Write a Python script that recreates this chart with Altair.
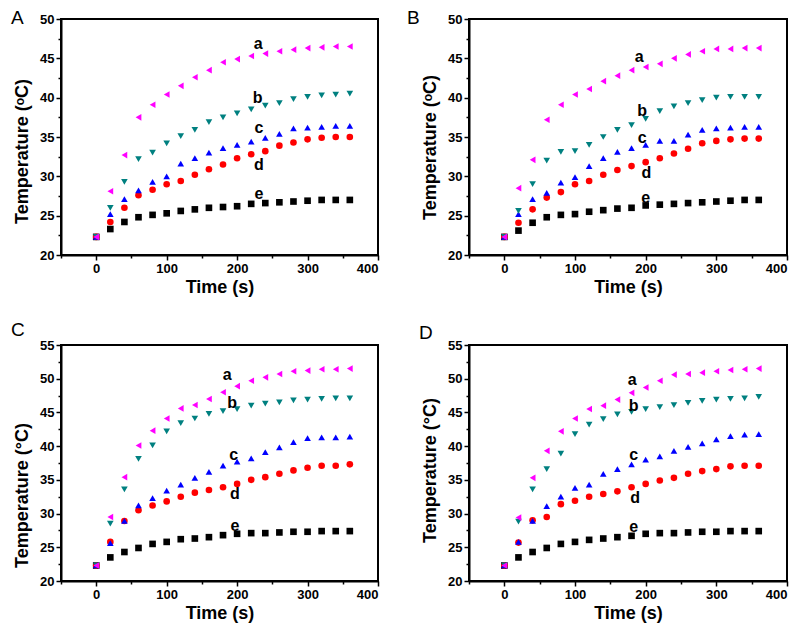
import altair as alt
import pandas as pd

time_s = [0, 20, 40, 60, 80, 100, 120, 140, 160, 180, 200, 220, 240, 260, 280, 300, 320, 340, 360]

A_a = [22.3, 28.1, 32.7, 37.5, 39.1, 40.4, 41.5, 42.6, 43.5, 44.5, 44.9, 45.3, 45.6, 45.9, 46.1, 46.3, 46.4, 46.5, 46.5]
A_b = [22.3, 26.0, 29.3, 32.2, 33.0, 34.2, 35.1, 35.9, 36.9, 37.5, 38.0, 38.5, 39.0, 39.3, 39.8, 40.1, 40.3, 40.4, 40.5]
A_c = [22.3, 25.2, 27.1, 28.2, 29.3, 30.0, 31.6, 32.3, 33.0, 33.6, 34.0, 34.4, 34.9, 35.4, 36.1, 36.2, 36.3, 36.4, 36.4]
A_d = [22.3, 24.2, 26.0, 27.6, 28.3, 29.0, 29.4, 30.2, 30.9, 31.5, 32.3, 32.8, 33.2, 33.9, 34.3, 34.7, 34.9, 35.0, 35.0]
A_e = [22.3, 23.3, 24.2, 24.8, 25.1, 25.3, 25.6, 25.8, 26.0, 26.1, 26.2, 26.5, 26.6, 26.7, 26.8, 26.9, 27.0, 27.0, 27.0]

B_a = [22.3, 28.5, 32.1, 37.2, 39.1, 40.4, 41.1, 42.1, 42.8, 43.5, 43.9, 44.3, 45.0, 45.5, 45.9, 46.2, 46.2, 46.3, 46.3]
B_b = [22.3, 25.6, 29.0, 32.0, 33.1, 33.2, 34.0, 35.0, 35.9, 36.5, 37.3, 38.3, 38.9, 39.3, 39.7, 40.0, 40.1, 40.1, 40.1]
B_c = [22.3, 25.2, 27.1, 27.9, 29.2, 29.9, 31.3, 32.3, 33.1, 33.6, 34.0, 34.5, 34.5, 35.3, 35.9, 36.1, 36.2, 36.3, 36.3]
B_d = [22.3, 24.1, 25.8, 27.3, 28.0, 29.0, 29.4, 30.2, 30.8, 31.3, 31.8, 32.3, 32.9, 33.5, 34.2, 34.5, 34.7, 34.8, 34.8]
B_e = [22.3, 23.1, 24.1, 24.8, 25.1, 25.2, 25.5, 25.7, 25.9, 26.0, 26.3, 26.4, 26.5, 26.6, 26.7, 26.8, 26.9, 27.0, 27.0]

C_a = [22.3, 29.5, 35.4, 40.1, 42.3, 44.1, 45.6, 46.1, 47.0, 48.0, 48.9, 49.7, 50.2, 50.7, 51.1, 51.2, 51.4, 51.4, 51.5]
C_b = [22.3, 28.5, 33.6, 38.1, 40.1, 42.2, 43.4, 44.1, 44.8, 45.2, 45.5, 46.0, 46.3, 46.5, 46.8, 46.9, 47.0, 47.1, 47.1]
C_c = [22.3, 25.6, 28.9, 31.2, 32.3, 33.4, 34.3, 35.3, 36.2, 37.1, 37.7, 38.2, 39.1, 39.8, 40.6, 41.2, 41.3, 41.3, 41.4]
C_d = [22.3, 25.8, 28.9, 30.5, 31.2, 31.8, 32.5, 33.1, 33.5, 33.9, 34.4, 35.0, 35.4, 35.9, 36.4, 36.8, 37.1, 37.1, 37.3]
C_e = [22.3, 23.5, 24.3, 24.9, 25.5, 25.8, 26.2, 26.3, 26.5, 26.8, 27.0, 27.1, 27.1, 27.2, 27.3, 27.3, 27.4, 27.4, 27.4]

D_a = [22.3, 29.4, 35.3, 39.3, 42.2, 44.1, 45.5, 46.0, 46.9, 47.9, 48.7, 49.7, 50.6, 50.7, 50.9, 51.1, 51.3, 51.4, 51.5]
D_b = [22.3, 28.8, 33.6, 36.6, 38.9, 41.8, 43.2, 44.0, 44.7, 45.1, 45.5, 45.8, 46.1, 46.4, 46.7, 46.9, 47.0, 47.1, 47.3]
D_c = [22.3, 25.8, 28.9, 31.1, 32.5, 33.8, 34.3, 35.9, 36.6, 37.3, 38.0, 38.5, 39.3, 39.9, 40.4, 41.0, 41.5, 41.7, 41.8]
D_d = [22.3, 25.7, 29.0, 29.5, 31.4, 31.9, 32.5, 32.9, 33.3, 33.9, 34.4, 34.9, 35.3, 35.9, 36.3, 36.6, 37.0, 37.1, 37.1]
D_e = [22.3, 23.5, 24.3, 24.9, 25.5, 25.8, 26.1, 26.3, 26.5, 26.7, 27.0, 27.1, 27.1, 27.2, 27.3, 27.3, 27.4, 27.4, 27.4]

series_keys = ["a", "b", "c", "d", "e"]
series_colors = ["#FF00FF", "#008080", "#0000FF", "#FF0000", "#000000"]
series_shapes = ["triangle-left", "triangle-down", "triangle-up", "circle", "square"]

# curve label positions (time, temperature)
A_lab_x = [230, 229, 231, 231, 231]
A_lab_y = [46.8, 39.9, 36.1, 31.4, 27.8]
B_lab_x = [191, 195, 195, 201, 200]
B_lab_y = [45.2, 38.3, 34.9, 30.4, 27.3]
C_lab_x = [186, 193, 195, 197, 197]
C_lab_y = [50.6, 46.4, 38.7, 32.9, 28.1]
D_lab_x = [181, 183, 183, 185, 183]
D_lab_y = [49.75, 46.0, 38.75, 32.3, 28.0]

x_major = [0, 100, 200, 300, 400]
x_minor = [-50, 50, 150, 250, 350]
y_major_AB = [20, 25, 30, 35, 40, 45, 50]
y_minor_AB = [22.5, 27.5, 32.5, 37.5, 42.5, 47.5]
y_major_CD = [20, 25, 30, 35, 40, 45, 50, 55]
y_minor_CD = [22.5, 27.5, 32.5, 37.5, 42.5, 47.5, 52.5]

FONT = "Liberation Sans"


def panel(letter, series, lab_x, lab_y, ymax, ymaj, ymin, ytitle, width, height,
          letter_dx, letter_dy, title_y):
    rows = []
    for key in reversed(series_keys):
        for t, v in zip(time_s, series[key]):
            rows.append({"time": t, "temp": v, "series": key})
    df = pd.DataFrame(rows)
    xs = alt.Scale(domain=[-50, 400], nice=False)
    ys = alt.Scale(domain=[20, ymax], nice=False, zero=False)

    minor = alt.Chart(df).mark_point(opacity=0).encode(
        x=alt.X("time:Q", scale=xs, axis=alt.Axis(values=x_minor, labels=False, domain=False,
                                                  tickSize=3, title=None, orient="bottom")),
        y=alt.Y("temp:Q", scale=ys, axis=alt.Axis(values=ymin, labels=False, domain=False,
                                                  tickSize=3, title=None, orient="left")),
    )
    pts = alt.Chart(df).mark_point(filled=True, opacity=1, size=44).encode(
        x=alt.X("time:Q", scale=xs, axis=alt.Axis(values=x_major, title="Time (s)", orient="bottom",
                                                  titlePadding=3)),
        y=alt.Y("temp:Q", scale=ys, axis=alt.Axis(values=ymaj, title=ytitle, orient="left",
                                                  titlePadding=8, titleY=title_y)),
        color=alt.Color("series:N", scale=alt.Scale(domain=series_keys, range=series_colors), legend=None),
        shape=alt.Shape("series:N", scale=alt.Scale(domain=series_keys, range=series_shapes), legend=None),
    )
    ldf = pd.DataFrame({"time": lab_x, "temp": lab_y, "lab": series_keys})
    labels = alt.Chart(ldf).mark_text(font=FONT, fontSize=16, fontWeight="bold", color="black").encode(
        x=alt.X("time:Q", scale=xs, axis=None),
        y=alt.Y("temp:Q", scale=ys, axis=None),
        text="lab:N",
    )
    letter_layer = alt.Chart(pd.DataFrame({"letter": [letter]})).mark_text(
        font=FONT, fontSize=19, align="left", baseline="top", color="black"
    ).encode(x=alt.value(letter_dx), y=alt.value(letter_dy), text="letter:N")

    return alt.layer(minor, pts, labels, letter_layer).resolve_axis(
        x="independent", y="independent"
    ).properties(width=width, height=height)


pA = panel("A", {"a": A_a, "b": A_b, "c": A_c, "d": A_d, "e": A_e}, A_lab_x, A_lab_y,
           50, y_major_AB, y_minor_AB, "Temperature (ᵒC)", 317, 236, -50, -10, 132)
pB = panel("B", {"a": B_a, "b": B_b, "c": B_c, "d": B_d, "e": B_e}, B_lab_x, B_lab_y,
           50, y_major_AB, y_minor_AB, "Temperature (ᵒC)", 318, 236, -62, -10, 128)
pC = panel("C", {"a": C_a, "b": C_b, "c": C_c, "d": C_d, "e": C_e}, C_lab_x, C_lab_y,
           55, y_major_CD, y_minor_CD, "Temperature (°C)", 317, 236, -50, -24, 150)
pD = panel("D", {"a": D_a, "b": D_b, "c": D_c, "d": D_d, "e": D_e}, D_lab_x, D_lab_y,
           55, y_major_CD, y_minor_CD, "Temperature (°C)", 318, 236, -50, -21, 125)

chart = alt.concat(
    pA, pB, pC, pD, columns=2, spacing={"row": 90, "column": 91}, bounds="flush"
).properties(
    padding={"left": 2, "top": 0, "right": 0, "bottom": 0},
    background="white",
).configure_view(
    stroke="black", strokeWidth=2
).configure_axis(
    grid=False,
    domainColor="black", domainWidth=2,
    tickColor="black", tickWidth=1.5, tickSize=5,
    labelFont=FONT, labelFontSize=13, labelFontWeight="bold", labelColor="black", labelPadding=2,
    titleFont=FONT, titleFontSize=18, titleFontWeight="bold", titleColor="black",
)

chart.save("out.html", embed_options={"renderer": "svg", "actions": False})
